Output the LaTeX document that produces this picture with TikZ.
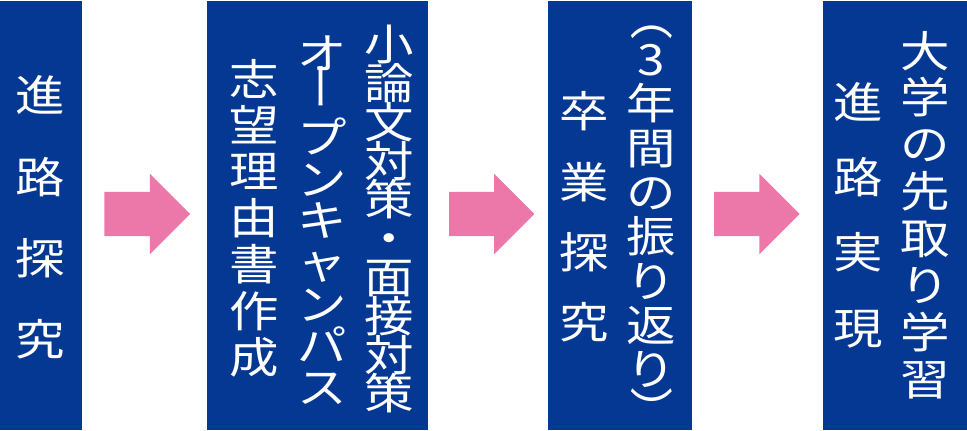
\documentclass[tikz,border=0pt]{standalone}
\usepackage{fontspec}
\newfontfamily\jpfont[FakeStretch=1.15]{Noto Sans CJK JP}
\XeTeXuseglyphmetrics=0
\usetikzlibrary{positioning}
\usetikzlibrary{shapes.arrows}
\definecolor{stagenavy}{RGB}{4,56,146}
\definecolor{flowpink}{RGB}{236,120,170}
\newcommand{\tatefont}[1]{\jpfont\fontsize{43pt}{#1pt}\selectfont\lineskiplimit=-\maxdimen}

\begin{document}
\begin{tikzpicture}[x=1pt, y=1pt,
  stage/.style={fill=stagenavy, minimum height=428.5pt, inner sep=0pt, outer sep=0pt},
  tate/.style={text=white, inner sep=0pt, align=center, font=\tatefont{#1}},
  tatemark/.style={text=white, inner sep=0pt, font=\tatefont{43}, rotate=-90, text height=37.84pt, text depth=5.16pt},
  flowarrow/.style={single arrow, fill=flowpink, text height=43.7pt, text depth=0pt, minimum width=80pt,
    single arrow head extend=18.15pt, single arrow tip angle=90, inner sep=0pt, outer sep=0pt}]
  \useasboundingbox (0,0) rectangle (967,431);

  \node [stage, minimum width=82pt] (stage1) at (41,215.25) {};
  \node [stage, minimum width=221.3pt] (stage2) at (317.65,215.25) {};
  \node [stage, minimum width=144.6pt] (stage3) at (620,215.25) {};
  \node [stage, minimum width=144.3pt] (stage4) at (894.85,215.25) {};

  \node [tate=81.2] (tankyu) at (40.5,216) {進\\路\\探\\究};

  \node [tate=38.8] (taisaku) at (389.5,214.5) {小\\論\\文\\対\\策\\・\\面\\接\\対\\策};
  \node [tate=41.7] (campus) at (322,213) {オ\\\phantom{ー}\\プ\\ン\\キ\\ャ\\ン\\パ\\ス};
  \node [tatemark] (choon) at (320.7,345) {ー};
  \node [tate=46.4] (shibou) at (254,215.5) {志\\望\\理\\由\\書\\作\\成};

  \node [tate=44.3] (furikaeri) at (651.5,219) {3\\年\\間\\の\\振\\り\\返\\り};
  \node [tatemark] (kakko open) at (651.5,402.4) {\makebox[25pt][r]{（}};
  \node [tatemark] (kakko close) at (651.5,32.1) {\makebox[25pt][l]{）}};
  \node [tate=70.3] (sotsugyo) at (584,216.5) {卒\\業\\探\\究};

  \node [tate=46.9] (sakidori) at (925.5,218.5) {大\\学\\の\\先\\取\\り\\学\\習};
  \node [tate=75.3] (jitsugen) at (858,218.5) {進\\路\\実\\現};

  \foreach \n/\gap/\len in {1/22.3/85.7, 2/20.7/85.3, 3/21.7/85.6}
    \node [flowarrow, minimum height=\len pt, right=\gap pt of stage\n, yshift=1.75pt] (arrow\n) {};
\end{tikzpicture}
\end{document}
